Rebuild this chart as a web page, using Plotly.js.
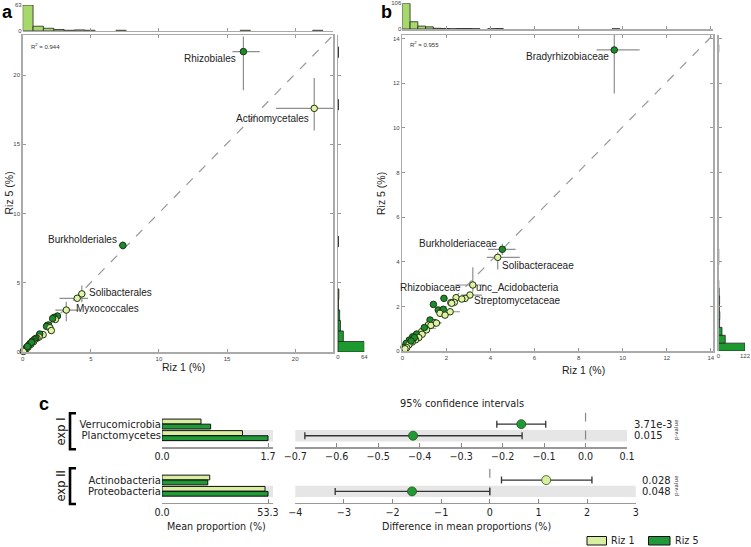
<!DOCTYPE html>
<html><head><meta charset="utf-8">
<script src="https://cdn.plot.ly/plotly-3.0.1.min.js"></script>
<style>html,body{margin:0;padding:0;background:#fff}#chart{width:751px;height:547px}</style>
</head><body><div id="chart"></div>
<script>
// ---------------- DATA ----------------
// Panel a (orders): Riz 1 vs Riz 5 mean proportion (%)
const aTaxa = ['Rhizobiales','Actinomycetales','Burkholderiales','Solibacterales','','Myxococcales',
  '','','','','','','','','','','','','','','','','','','','','','','','','','','','',''];
const aRiz1 = [16.2, 21.4, 7.35, 4.34, 4.0, 3.2, 2.55, 2.3, 2.4, 2.2, 1.8, 1.9, 1.75, 2.0, 2.1, 1.5, 1.25, 1.2, 1.05, 0.95, 0.85, 0.8, 0.7, 0.6, 0.55, 0.45, 0.4, 0.3, 0.25, 0.18, 0.12, 0.08, 0.05, 0.65, 0.35];
const aRiz5 = [21.7, 17.6, 7.7, 4.2, 3.88, 3.03, 2.6, 2.5, 2.35, 2.42, 1.92, 1.95, 1.85, 1.75, 1.55, 1.25, 1.3, 1.08, 1.0, 0.98, 0.9, 0.75, 0.78, 0.55, 0.62, 0.5, 0.36, 0.34, 0.2, 0.22, 0.09, 0.11, 0.04, 0.7, 0.4];
const aRiz1ErrMinus = [0.8, 2.8, 0.3, 0.25, 1.3, 0.8, 0.15, 0.1, 0.2, 0.1, 0.15, 0.1, 0.1, 0.15, 0.2, 0.15, 0.1, 0.1, 0.1, 0.08, 0.08, 0.08, 0.06, 0.06, 0.05, 0.05, 0.05, 0.04, 0.04, 0.03, 0.03, 0.02, 0.02, 0.06, 0.04];
const aRiz1ErrPlus  = [1.2, 1.4, 0.3, 0.25, 0.8, 0.9, 0.15, 0.1, 0.2, 0.1, 0.15, 0.1, 0.1, 0.15, 0.2, 0.15, 0.1, 0.1, 0.1, 0.08, 0.08, 0.08, 0.06, 0.06, 0.05, 0.05, 0.05, 0.04, 0.04, 0.03, 0.03, 0.02, 0.02, 0.06, 0.04];
const aRiz5ErrMinus = [2.8, 1.6, 0.3, 0.6, 0.2, 0.8, 0.15, 0.1, 0.1, 0.15, 0.1, 0.15, 0.1, 0.1, 0.2, 0.15, 0.1, 0.1, 0.08, 0.08, 0.08, 0.06, 0.06, 0.05, 0.05, 0.05, 0.04, 0.04, 0.03, 0.03, 0.02, 0.02, 0.02, 0.05, 0.04];
const aRiz5ErrPlus  = [1.1, 2.2, 0.3, 0.6, 0.2, 0.6, 0.15, 0.1, 0.1, 0.15, 0.1, 0.15, 0.1, 0.1, 0.2, 0.15, 0.1, 0.1, 0.08, 0.08, 0.08, 0.06, 0.06, 0.05, 0.05, 0.05, 0.04, 0.04, 0.03, 0.03, 0.02, 0.02, 0.02, 0.05, 0.04];
const aR2 = '0.944';
const aBinWidth = 0.76;
const aHistRiz1 = [63, 11, 6, 3, 1, 2, 1, 0, 0, 1, 0, 0, 0, 0, 0, 0, 0, 0, 0, 0, 0, 1, 0, 0, 0, 0, 0, 0, 1, 0];
const aHistRiz5 = [64, 13, 6, 4, 1, 2, 0, 0, 0, 0, 1, 0, 0, 0, 0, 0, 0, 0, 0, 0, 0, 0, 0, 1, 0, 0, 0, 0, 1, 0];

// Panel b (families)
const bTaxa = ['Bradyrhizobiaceae','Burkholderiaceae','Solibacteraceae','unc_Acidobacteria','Streptomycetaceae','Rhizobiaceae',
  '','','','','','','','','','','','','','','','','','','','','','','','','','','','','','','','','','','',''];
const bRiz1 = [9.62, 4.54, 4.33, 3.2, 3.07, 1.89, 2.44, 2.85, 2.2, 1.41, 1.63, 1.78, 1.86, 1.71, 2.17, 1.94, 2.36, 2.7, 2.24, 1.26, 1.18, 1.48, 1.03, 0.88, 0.65, 0.47, 0.32, 0.17, 0.08, 0.9, 0.75, 0.6, 0.45, 0.3, 0.2, 1.1, 1.3, 1.55, 1.0, 0.55, 0.4, 0.12];
const bRiz5 = [13.5, 4.56, 4.2, 2.96, 2.51, 2.36, 2.39, 2.36, 2.17, 2.09, 1.84, 1.76, 1.87, 1.69, 1.76, 1.61, 2.18, 2.33, 2.14, 1.39, 1.17, 1.27, 1.02, 0.87, 0.76, 0.64, 0.49, 0.34, 0.17, 0.75, 0.6, 0.5, 0.4, 0.28, 0.15, 0.95, 1.15, 1.25, 1.05, 0.6, 0.45, 0.1];
const bRiz1ErrMinus = [0.8, 0.65, 0.5, 0.8, 0.4, 0.15, 0.1, 0.15, 0.1, 0.08, 0.1, 0.1, 0.1, 0.1, 0.2, 0.1, 0.1, 0.15, 0.1, 0.1, 0.1, 0.1, 0.1, 0.08, 0.06, 0.05, 0.04, 0.03, 0.02, 0.08, 0.06, 0.05, 0.04, 0.03, 0.02, 0.1, 0.1, 0.1, 0.1, 0.05, 0.04, 0.02];
const bRiz1ErrPlus  = [1.15, 0.6, 1.0, 0.55, 0.55, 0.15, 0.1, 0.15, 0.1, 0.08, 0.1, 0.1, 0.1, 0.1, 0.45, 0.1, 0.1, 0.15, 0.1, 0.1, 0.1, 0.3, 0.5, 0.08, 0.06, 0.05, 0.04, 0.03, 0.02, 0.08, 0.06, 0.05, 0.04, 0.03, 0.02, 0.1, 0.1, 0.2, 0.1, 0.05, 0.04, 0.02];
const bRiz5ErrMinus = [1.95, 0.25, 0.55, 0.3, 0.15, 0.1, 0.1, 0.1, 0.1, 0.08, 0.1, 0.1, 0.1, 0.1, 0.1, 0.1, 0.1, 0.1, 0.1, 0.1, 0.1, 0.1, 0.1, 0.08, 0.06, 0.05, 0.04, 0.03, 0.02, 0.08, 0.06, 0.05, 0.04, 0.03, 0.02, 0.1, 0.15, 0.1, 0.1, 0.05, 0.04, 0.02];
const bRiz5ErrPlus  = [0.7, 0.25, 0.23, 0.8, 0.15, 0.1, 0.1, 0.1, 0.1, 0.08, 0.1, 0.1, 0.1, 0.1, 0.1, 0.1, 0.1, 0.1, 0.1, 0.1, 0.1, 0.1, 0.1, 0.08, 0.06, 0.05, 0.04, 0.03, 0.02, 0.08, 0.06, 0.05, 0.04, 0.03, 0.02, 0.1, 0.15, 0.1, 0.1, 0.05, 0.04, 0.02];
const bR2 = '0.955';
const bBinWidth = 0.3525;
const bHistRiz1 = [106, 30, 12, 9, 3, 2, 1, 2, 2, 1, 0, 1, 2, 0, 0, 0, 0, 0, 0, 0, 0, 0, 0, 0, 0, 0, 0, 1, 0, 0, 0, 0, 0, 0, 0, 0, 0, 0, 0, 0];
const bHistRiz5 = [122, 31, 16, 5, 6, 4, 5, 3, 1, 0, 0, 1, 1, 0, 0, 0, 0, 0, 0, 0, 0, 0, 0, 0, 0, 0, 0, 0, 0, 0, 0, 0, 0, 0, 0, 0, 0, 0, 1, 0];

// Panel c (phyla)
const cTaxaExp1 = ['Verrucomicrobia', 'Planctomycetes'];
const cRiz1Exp1 = [0.625, 1.29];
const cRiz5Exp1 = [0.78, 1.7];
const cDiffExp1 = [-0.155, -0.416];
const cCiLowExp1 = [-0.214, -0.677];
const cCiHighExp1 = [-0.096, -0.153];
const cPExp1 = ['3.71e-3', '0.015'];

const cTaxaExp2 = ['Actinobacteria', 'Proteobacteria'];
const cRiz1Exp2 = [24.0, 51.8];
const cRiz5Exp2 = [23.0, 53.3];
const cDiffExp2 = [1.16, -1.6];
const cCiLowExp2 = [0.24, -3.18];
const cCiHighExp2 = [2.1, 0.0];
const cPExp2 = ['0.028', '0.048'];

const groupNames = ['exp I', 'exp II'];
const seriesNames = ['Riz 1', 'Riz 5'];

// ---------------- STYLE / LAYOUT ----------------
const W = 751, H = 547;
const fx = p => p / W;
const fy = p => 1 - p / H;
const LIGHT = '#d8efa0', DARK = '#1f9a36';
const PT_LIGHT = '#e2f2a6', PT_DARK = '#1a8c2e';
const HIST_LIGHT = '#a6d96a', HIST_DARK = '#1c9a30';
const ARIAL = 'Liberation Sans, Arial, sans-serif';
const DEJAVU = 'DejaVu Sans, sans-serif';

const traces = [];
const anns = [];
const shapes = [];

function txt(x, y, text, o) {
  anns.push(Object.assign({xref:'paper', yref:'paper', x: fx(x), y: fy(y), text, showarrow:false,
    xanchor:'center', yanchor:'middle', font:{family:ARIAL, size:10, color:'#222'}}, o || {}));
}

function scatterPanel(xs, ys, e1m, e1p, e5m, e5p, xa, ya) {
  traces.push({type:'scatter', mode:'markers', x:xs, y:ys, xaxis:xa, yaxis:ya, cliponaxis:false,
    marker:{size:6.5, color: xs.map((v,i)=> ys[i] > v ? PT_DARK : PT_LIGHT), line:{color:'#1d3310', width:1}},
    error_x:{type:'data', symmetric:false, array:e1p, arrayminus:e1m, color:'#8e8e8e', thickness:1.2, width:0},
    error_y:{type:'data', symmetric:false, array:e5p, arrayminus:e5m, color:'#8e8e8e', thickness:1.2, width:0},
    hoverinfo:'skip'});
}
function histPanel(counts, bw, color, xa, ya, horiz) {
  const pos = [], val = [];
  counts.forEach((c,i)=>{ if (c > 0) { pos.push(i*bw + bw/2); val.push(c); } });
  traces.push(Object.assign({type:'bar', xaxis:xa, yaxis:ya, width:bw,
    marker:{color, line:{color:'#222', width:0.8}}, hoverinfo:'skip'},
    horiz ? {orientation:'h', y:pos, x:val} : {x:pos, y:val}));
}

scatterPanel(aRiz1, aRiz5, aRiz1ErrMinus, aRiz1ErrPlus, aRiz5ErrMinus, aRiz5ErrPlus, 'x', 'y');
histPanel(aHistRiz1, aBinWidth, HIST_LIGHT, 'x2', 'y2', false);
histPanel(aHistRiz5, aBinWidth, HIST_DARK, 'x3', 'y3', true);
scatterPanel(bRiz1, bRiz5, bRiz1ErrMinus, bRiz1ErrPlus, bRiz5ErrMinus, bRiz5ErrPlus, 'x4', 'y4');
histPanel(bHistRiz1, bBinWidth, HIST_LIGHT, 'x5', 'y5', false);
histPanel(bHistRiz5, bBinWidth, HIST_DARK, 'x6', 'y6', true);

// panel c bars
function barPanel(r1, r5, xa, ya) {
  const rows = r1.map((_,i)=>i);
  traces.push({type:'bar', orientation:'h', x:r1, y:rows, xaxis:xa, yaxis:ya, width:0.42, offset:-0.44,
    marker:{color:LIGHT, line:{color:'#111', width:1}}, hoverinfo:'skip'});
  traces.push({type:'bar', orientation:'h', x:r5, y:rows, xaxis:xa, yaxis:ya, width:0.42, offset:0.0,
    marker:{color:DARK, line:{color:'#111', width:1}}, hoverinfo:'skip'});
}
function ciPanel(d, lo, hi, xa, ya) {
  traces.push({type:'scatter', mode:'markers', x:d, y:d.map((_,i)=>i), xaxis:xa, yaxis:ya, cliponaxis:false,
    marker:{size:9, color:d.map(v=> v < 0 ? DARK : LIGHT), line:{color:'#2d4d1c', width:0.8}},
    error_x:{type:'data', symmetric:false, array:hi.map((h,i)=>h-d[i]), arrayminus:lo.map((l,i)=>d[i]-l),
      color:'#333', thickness:1.3, width:3.5}, hoverinfo:'skip'});
}
barPanel(cRiz1Exp1, cRiz5Exp1, 'x7', 'y7');
ciPanel(cDiffExp1, cCiLowExp1, cCiHighExp1, 'x8', 'y8');
barPanel(cRiz1Exp2, cRiz5Exp2, 'x9', 'y9');
ciPanel(cDiffExp2, cCiLowExp2, cCiHighExp2, 'x10', 'y10');

// axes
const scatAx = (domain, range, dtick, anchor, labels) => ({domain, range, anchor, dtick, tick0:0,
  ticks:'inside', ticklen:3, tickcolor:'#999', showline:true, linecolor:'#aaa', linewidth:1.5, mirror:'ticks',
  showgrid:false, zeroline:false, showticklabels: labels !== false, tickfont:{family:ARIAL, size:6, color:'#444'}, fixedrange:true});
const plainAx = (domain, range, anchor, tickvals) => ({domain, range, anchor, tickvals, ticks:'', showline:false,
  showgrid:false, zeroline:false, tickfont:{family:ARIAL, size:6, color:'#444'}, fixedrange:true});

const aX = [fx(22.7), fx(333.3)], aY = [fy(352), fy(35)];
const bX = [fx(402.3), fx(713)], bY = [fy(351), fy(35)];
const aRange = [0, 22.8], aRangeY = [0, 22.9];
const bRange = [0, 14.1], bRangeY = [0, 14.17];
const aMaxH1 = Math.max(...aHistRiz1), aMaxH5 = Math.max(...aHistRiz5);
const bMaxH1 = Math.max(...bHistRiz1), bMaxH5 = Math.max(...bHistRiz5);

const c1Max = Math.max(...cRiz1Exp1, ...cRiz5Exp1);
const c2Max = Math.max(...cRiz1Exp2, ...cRiz5Exp2);
const cFont = {family:DEJAVU, size:9.6, color:'#222'};
const cxAx = (domain, range, anchor, extra) => Object.assign({domain, range, anchor, ticks:'inside', ticklen:4,
  tickcolor:'#888', showline:true, linecolor:'#999', linewidth:1.5, showgrid:false, zeroline:false,
  tickfont:cFont, fixedrange:true}, extra);
const cyAx = (domain, anchor, labels) => Object.assign({domain, anchor, range:[2, -1],
  ticks:'', showline:false, showgrid:false, zeroline:false,
  tickfont:{family:DEJAVU, size:10, color:'#222'}, fixedrange:true},
  labels ? {tickvals:[0,1], ticktext:labels} : {showticklabels:false});
const c1Y = [fy(447.3), fy(412.6)], c2Y = [fy(502.7), fy(468.8)];

const layout = {
  width:W, height:H, margin:{l:0, r:0, t:0, b:0}, paper_bgcolor:'#fff', plot_bgcolor:'rgba(0,0,0,0)',
  showlegend:false, barmode:'overlay', font:{family:ARIAL, size:10, color:'#222'},
  xaxis: scatAx(aX, aRange, 5, 'y'),
  yaxis: scatAx(aY, aRangeY, 5, 'x'),
  xaxis2: Object.assign(scatAx(aX, aRange, 5, 'y2', false), {mirror:false}),
  yaxis2: plainAx([fy(30.7), fy(5)], [0, aMaxH1], 'x2', [0, aMaxH1]),
  xaxis3: plainAx([fx(338), fx(364.3)], [0, aMaxH5], 'y3', [0, aMaxH5]),
  yaxis3: Object.assign(scatAx(aY, aRangeY, 5, 'x3', false), {mirror:false}),
  xaxis4: scatAx(bX, bRange, 2, 'y4'),
  yaxis4: scatAx(bY, bRangeY, 2, 'x4'),
  xaxis5: Object.assign(scatAx(bX, bRange, 2, 'y5', false), {mirror:false}),
  yaxis5: plainAx([fy(29), fy(3.3)], [0, bMaxH1], 'x5', [0, bMaxH1]),
  xaxis6: plainAx([fx(718.5), fx(745)], [0, bMaxH5], 'y6', [0, bMaxH5]),
  yaxis6: Object.assign(scatAx(bY, bRangeY, 2, 'x6', false), {mirror:false}),
  xaxis7: cxAx([fx(162), fx(273)], [0, c1Max*1.047], 'y7', {tickvals:[0, c1Max], ticktext:['0.0', c1Max.toFixed(1)]}),
  yaxis7: cyAx(c1Y, 'x7', cTaxaExp1),
  xaxis8: cxAx([fx(295.3), fx(627)], [-0.7, 0.1], 'y8', {dtick:0.1, tick0:0, tickformat:'.1f'}),
  yaxis8: cyAx(c1Y, 'x8', null),
  xaxis9: cxAx([fx(162), fx(273)], [0, c2Max*1.047], 'y9', {tickvals:[0, c2Max], ticktext:['0.0', c2Max.toFixed(1)]}),
  yaxis9: cyAx(c2Y, 'x9', cTaxaExp2),
  xaxis10: cxAx([fx(295.3), fx(635.7)], [-4, 3], 'y10', {dtick:1, tick0:0}),
  yaxis10: cyAx(c2Y, 'x10', null),
  annotations: anns, shapes: shapes
};

// diagonal 1:1 lines
['x','x4'].forEach((xa,i)=>{
  const ya = i === 0 ? 'y' : 'y4';
  shapes.push({type:'line', xref:xa+' domain', yref:ya+' domain', x0:0, y0:0, x1:1, y1:1,
    line:{color:'#999', width:1.2, dash:'dash'}, layer:'below'});
});

// grey band on second row & zero lines
[['x7','y7'],['x8','y8'],['x9','y9'],['x10','y10']].forEach(([xa,ya])=>{
  shapes.push({type:'rect', xref:xa+' domain', yref:ya, x0:0, x1:1, y0:0.5, y1:1.5,
    fillcolor:'#e6e6e6', line:{width:0}, layer:'below'});
});
[['x8','y8'],['x10','y10']].forEach(([xa,ya])=>{
  shapes.push({type:'line', xref:xa, yref:ya, x0:0, x1:0, y0:-1, y1:2,
    line:{color:'#888', width:1.2, dash:'dash'}, layer:'below'});
});

// brackets
function bracket(top, bottom) {
  shapes.push({type:'path', xref:'paper', yref:'paper',
    path:`M ${fx(76)},${fy(top)} L ${fx(70)},${fy(top)} L ${fx(70)},${fy(bottom)} L ${fx(76)},${fy(bottom)}`,
    line:{color:'#000', width:2.6}});
}
bracket(413.3, 449.3);
bracket(468.3, 504);
txt(60, 431.5, groupNames[0], {textangle:-90, font:{family:DEJAVU, size:11.5, color:'#111'}});
txt(60, 486.5, groupNames[1], {textangle:-90, font:{family:DEJAVU, size:11.5, color:'#111'}});

// scatter labels
const aLabelPos = {
  'Rhizobiales': {xanchor:'right', xshift:-5, yshift:-7},
  'Actinomycetales': {xanchor:'right', xshift:-3, yshift:-10.6},
  'Burkholderiales': {xanchor:'right', xshift:-3.4, yshift:6},
  'Solibacterales': {xanchor:'left', xshift:5.6, yshift:1.7},
  'Myxococcales': {xanchor:'left', xshift:7.3, yshift:1.3}
};
const bLabelPos = {
  'Bradyrhizobiaceae': {xanchor:'right', xshift:-3.6, yshift:-7},
  'Burkholderiaceae': {xanchor:'right', xshift:-3, yshift:6},
  'Solibacteraceae': {xanchor:'left', xshift:2.3, yshift:-7.7},
  'unc_Acidobacteria': {xanchor:'left', xshift:1.6, yshift:-2.3},
  'Streptomycetaceae': {xanchor:'left', xshift:2.3, yshift:-5.7},
  'Rhizobiaceae': {xanchor:'right', xshift:19, yshift:10.6}
};
function labelPts(names, xs, ys, pos, xa, ya) {
  names.forEach((n,i)=>{
    if (!n) return;
    anns.push(Object.assign({xref:xa, yref:ya, x:xs[i], y:ys[i], text:n, showarrow:false, yanchor:'middle',
      font:{family:ARIAL, size:10, color:'#222'}}, pos[n]));
  });
}
labelPts(aTaxa, aRiz1, aRiz5, aLabelPos, 'x', 'y');
labelPts(bTaxa, bRiz1, bRiz5, bLabelPos, 'x4', 'y4');

// R^2
txt(29, 46, 'R<sup>2</sup> = ' + aR2, {xanchor:'left', font:{family:ARIAL, size:6, color:'#333'}});
txt(408.3, 44.3, 'R<sup>2</sup> = ' + bR2, {xanchor:'left', font:{family:ARIAL, size:6, color:'#333'}});

// axis titles
txt(183, 367.3, seriesNames[0] + ' (%)', {font:{family:ARIAL, size:10.5, color:'#222'}});
txt(8, 193.5, seriesNames[1] + ' (%)', {textangle:-90, font:{family:ARIAL, size:10.5, color:'#222'}});
txt(583.3, 370, seriesNames[0] + ' (%)', {font:{family:ARIAL, size:10.5, color:'#222'}});
txt(381, 193, seriesNames[1] + ' (%)', {textangle:-90, font:{family:ARIAL, size:10.5, color:'#222'}});

// panel letters
txt(7, 0, 'a', {yanchor:'top', font:{family:ARIAL, size:18, color:'#000', weight:'bold'}});
txt(386, 0, 'b', {yanchor:'top', font:{family:ARIAL, size:18, color:'#000', weight:'bold'}});
txt(44, 392, 'c', {yanchor:'top', font:{family:ARIAL, size:18, color:'#000', weight:'bold'}});

// panel c texts
txt(461.7, 403, '95% confidence intervals', {font:{family:DEJAVU, size:9.8, color:'#222'}});
txt(217, 526.7, 'Mean proportion (%)', {font:cFont});
txt(466.7, 526, 'Difference in mean proportions (%)', {font:cFont});
cPExp1.forEach((p,i)=> anns.push({xref:'paper', yref:'y8', x:fx(631.7), y:i, text:p, showarrow:false,
  xanchor:'left', yanchor:'middle', font:{family:DEJAVU, size:10, color:'#222'}}));
cPExp2.forEach((p,i)=> anns.push({xref:'paper', yref:'y10', x:fx(640), y:i, text:p, showarrow:false,
  xanchor:'left', yanchor:'middle', font:{family:DEJAVU, size:10, color:'#222'}}));
txt(676, 430, 'p-value', {textangle:-90, font:{family:DEJAVU, size:5.5, color:'#333'}});
txt(676, 486, 'p-value', {textangle:-90, font:{family:DEJAVU, size:5.5, color:'#333'}});

// legend
shapes.push({type:'rect', xref:'paper', yref:'paper', x0:fx(587), x1:fx(606.5), y0:fy(545), y1:fy(536.5),
  fillcolor:LIGHT, line:{color:'#111', width:1}});
shapes.push({type:'rect', xref:'paper', yref:'paper', x0:fx(648.5), x1:fx(670), y0:fy(545), y1:fy(536.5),
  fillcolor:DARK, line:{color:'#111', width:1}});
txt(609.3, 540.7, seriesNames[0], {xanchor:'left', font:{family:DEJAVU, size:9.6, color:'#222'}});
txt(672.7, 540.7, seriesNames[1], {xanchor:'left', font:{family:DEJAVU, size:9.6, color:'#222'}});

Plotly.newPlot('chart', traces, layout, {staticPlot:true, displayModeBar:false});
</script></body></html>
